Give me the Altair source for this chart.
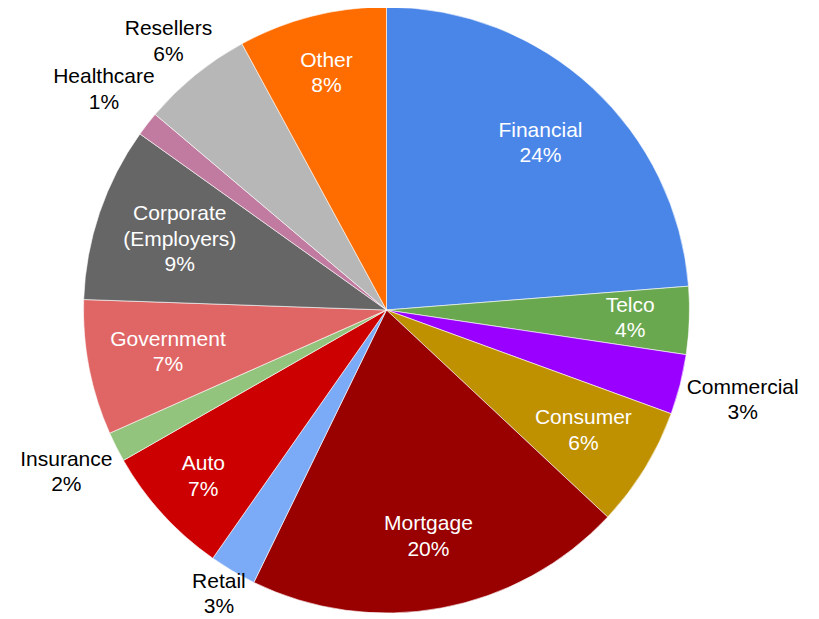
import altair as alt
import pandas as pd

categories = ["Financial", "Telco", "Commercial", "Consumer", "Mortgage", "Retail",
              "Auto", "Insurance", "Government", "Corporate\n(Employers)",
              "Healthcare", "Resellers", "Other"]
shares = [23.7, 3.6, 3.2, 6.4, 20.2, 2.5, 7.0, 1.6, 7.2, 9.3, 1.3, 5.9, 7.9]
pct_labels = ["24%", "4%", "3%", "6%", "20%", "3%", "7%", "2%", "7%", "9%", "1%", "6%", "8%"]
placement = ["inside", "inside", "outside", "inside", "inside", "outside", "inside",
             "outside", "inside", "inside", "outside", "outside", "inside"]
colors = ["#4a86e8", "#6aa84f", "#9900ff", "#bf9000", "#990000", "#7baaf7", "#cc0000",
          "#93c47d", "#e06666", "#666666", "#c27ba0", "#b7b7b7", "#ff6d01"]

rows = []
for i, (c, s, p, pl) in enumerate(zip(categories, shares, pct_labels, placement)):
    lines = c.split("\n") + [p]
    lines += [""] * (3 - len(lines))
    rows.append({"idx": i, "category": c, "share": s, "place": pl,
                 "n": len([l for l in lines if l]), "l0": lines[0], "l1": lines[1], "l2": lines[2]})
df = pd.DataFrame(rows)

W, H = 803, 611
CX, CY = 378.5, 302
R = 303
LH = 25.5
FS = 21
font = "Liberation Sans, Arial, Helvetica, sans-serif"

arcs = alt.Chart(df).mark_arc(radius=R, stroke="#ffffff", strokeWidth=0.6).encode(
    theta=alt.Theta("share:Q", stack=True),
    order=alt.Order("idx:Q"),
    x=alt.value(CX),
    y=alt.value(CY),
    color=alt.Color("category:N", scale=alt.Scale(domain=categories, range=colors), legend=None),
)

tbase = alt.Chart(df).transform_window(
    cum="sum(share)", sort=[alt.SortField("idx", order="ascending")], frame=[None, 0]
).transform_joinaggregate(
    total="sum(share)"
).transform_calculate(
    mid="(datum.cum - datum.share / 2) / datum.total * 2 * PI",
    w="max(length(datum.l0), length(datum.l1), length(datum.l2)) * 10.6",
).transform_calculate(
    lr=(f"datum.place == 'inside' ? 265 - 0.4 * datum.w : "
        f"{R} + abs(sin(datum.mid)) * (datum.w / 2 + 12) + abs(cos(datum.mid)) * 6")
)

layers = [arcs]
for n in (2, 3):
    for k in range(n):
        dy = (k - (n - 1) / 2) * LH
        layers.append(
            tbase.transform_calculate(
                t=f"datum.n == {n} ? datum.l{k} : ''"
            ).mark_text(fontSize=FS, font=font, align="center", baseline="middle", dy=dy).encode(
                theta=alt.Theta("mid:Q", scale=None, stack=None),
                radius=alt.Radius("lr:Q", scale=None),
                x=alt.value(CX),
                y=alt.value(CY),
                text="t:N",
                color=alt.condition("datum.place == 'inside'", alt.value("#ffffff"), alt.value("#000000")),
            )
        )

chart = alt.layer(*layers).properties(
    width=W, height=H, padding=0,
    autosize=alt.AutoSizeParams(type="none"),
).configure_view(stroke=None)

chart.save("out.html", embed_options={"renderer": "svg", "actions": False})
